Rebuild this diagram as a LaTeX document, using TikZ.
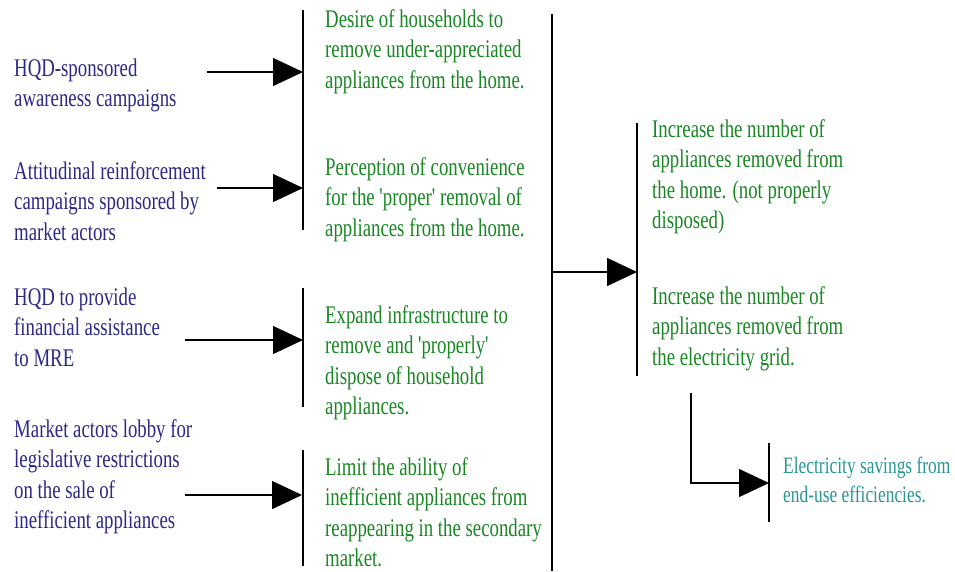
\documentclass[tikz,border=0pt]{standalone}
\usepackage{fontspec}
\setmainfont{Liberation Serif}
\usepackage{graphicx}
\usetikzlibrary{arrows.meta}
\definecolor{lblue}{RGB}{45,40,135}
\definecolor{mgreen}{RGB}{25,135,35}
\definecolor{eteal}{RGB}{40,150,150}
\newcommand{\stk}[1]{\scalebox{1}[1.35]{\begin{tabular}[t]{@{}l@{}}#1\end{tabular}}}
\newcommand{\sq}{\textquotesingle}
\begin{document}
\begin{tikzpicture}[x=1pt,y=-1pt,
  txt/.style={anchor=base west, inner sep=0pt, font=\fontsize{18.8}{22.7}\selectfont},
  bar/.style={line width=1.3pt, draw=black},
  arr/.style={line width=1.3pt, draw=black, -{Triangle[length=30pt,width=28pt]}}]
\useasboundingbox (0,0) rectangle (955,571);

% left texts
\node[txt, text=lblue] (l1) at (14,76) {\stk{HQD-sponsored\\awareness campaigns}};
\node[txt, text=lblue] (l2) at (14,179) {\stk{Attitudinal reinforcement\\campaigns sponsored by\\market actors}};
\node[txt, text=lblue] (l3) at (14,305) {\stk{HQD to provide\\financial assistance\\to MRE}};
\node[txt, text=lblue] (l4) at (14,437) {\stk{Market actors lobby for\\legislative restrictions\\on the sale of\\inefficient appliances}};

% middle texts
\node[txt, text=mgreen] (m1) at (325,27) {\stk{Desire of households to\\remove under-appreciated\\appliances from the home.}};
\node[txt, text=mgreen] (m2) at (325,175) {\stk{Perception of convenience\\for the \sq proper\sq{} removal of\\appliances from the home.}};
\node[txt, text=mgreen] (m3) at (325,323) {\stk{Expand infrastructure to\\remove and \sq properly\sq\\dispose of household\\appliances.}};
\node[txt, text=mgreen] (m4) at (325,475) {\stk{Limit the ability of\\inefficient appliances from\\reappearing in the secondary\\market.}};

% right texts
\node[txt, text=mgreen] (r1) at (652,137) {\stk{Increase the number of\\appliances removed from\\the home. (not properly\\disposed)}};
\node[txt, text=mgreen] (r2) at (652,304) {\stk{Increase the number of\\appliances removed from\\the electricity grid.}};
\node[txt, text=eteal, font=\fontsize{17.4}{22.2}\selectfont] (r3) at (783,473) {\stk{Electricity savings from\\end-use efficiencies.}};

% bars
\coordinate (b1t) at (303,10);  \coordinate (b1b) at (303,230);
\coordinate (b2t) at (303,288); \coordinate (b2b) at (303,407);
\coordinate (b3t) at (303,450); \coordinate (b3b) at (303,566);
\coordinate (bmt) at (552,14);  \coordinate (bmb) at (552,571);
\coordinate (brt) at (637,123); \coordinate (brb) at (637,376);
\coordinate (bet) at (769,443); \coordinate (beb) at (769,522);
\draw[bar] (b1t) -- (b1b);
\draw[bar] (b2t) -- (b2b);
\draw[bar] (b3t) -- (b3b);
\draw[bar] (bmt) -- (bmb);
\draw[bar] (brt) -- (brb);
\draw[bar] (bet) -- (beb);

% arrows
\coordinate (s1) at (207,72);  \coordinate (e1) at (303,72);
\coordinate (s2) at (217,188); \coordinate (e2) at (303,188);
\coordinate (s3) at (185,340); \coordinate (e3) at (303,340);
\coordinate (s4) at (185,495); \coordinate (e4) at (302,495);
\coordinate (s5) at (552,272); \coordinate (e5) at (637,272);
\coordinate (s6) at (691,393); \coordinate (e6) at (769,483);
\draw[arr] (s1) -- (e1);
\draw[arr] (s2) -- (e2);
\draw[arr] (s3) -- (e3);
\draw[arr] (s4) -- (e4);
\draw[arr] (s5) -- (e5);
\draw[arr] (s6) |- (e6);
\end{tikzpicture}
\end{document}
